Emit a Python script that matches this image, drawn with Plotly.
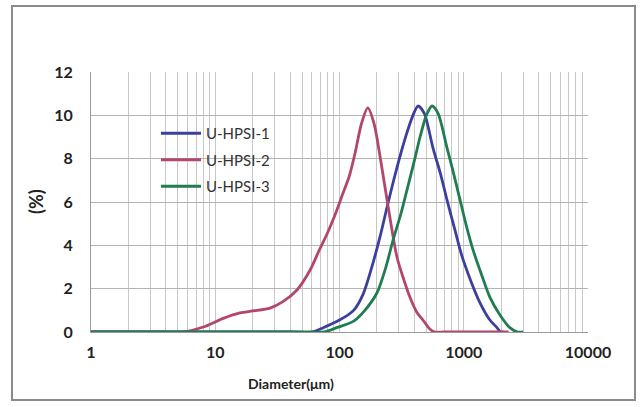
import plotly.graph_objects as go

# ---- data ----
d1 = [1, 40, 60, 74, 100, 130, 155, 180, 212, 240, 270, 310, 349, 390, 428, 480, 565, 650, 733, 850, 968, 1150, 1352, 1600, 1850, 1980, 2100]
v1 = [0, 0, 0, 0.2, 0.55, 1.0, 1.75, 2.9, 4.4, 5.7, 6.9, 8.2, 9.2, 10.0, 10.43, 10.1, 8.5, 7.3, 6.1, 4.7, 3.5, 2.3, 1.34, 0.6, 0.2, 0, 0]

d2 = [1, 4, 5.5, 8, 11.6, 15.8, 20, 27.6, 35, 45.5, 58, 69, 79, 92, 105, 120, 134, 150, 169, 190, 212, 246, 290, 330, 369, 420, 470, 530, 587, 700, 2300]
v2 = [0, 0, 0, 0.23, 0.63, 0.88, 0.97, 1.1, 1.4, 1.94, 2.86, 3.8, 4.5, 5.4, 6.3, 7.2, 8.3, 9.6, 10.34, 9.6, 8.1, 5.8, 3.46, 2.4, 1.6, 0.9, 0.55, 0.15, 0, 0, 0]

d3 = [1, 50, 75, 95, 130, 160, 200, 235, 270, 310, 349, 400, 445, 500, 555, 620, 733, 830, 933, 1050, 1186, 1400, 1625, 1950, 2350, 2700, 3000]
v3 = [0, 0, 0, 0.2, 0.5, 1.0, 1.8, 2.95, 4.25, 5.4, 6.55, 7.9, 9.0, 10.0, 10.43, 10.1, 8.5, 7.3, 6.1, 4.9, 3.8, 2.6, 1.6, 0.8, 0.2, 0, 0]

names = ["U-HPSI-1", "U-HPSI-2", "U-HPSI-3"]
colors = ["#3c3f9c", "#b3466f", "#1f7d4f"]

x_major = [1, 10, 100, 1000, 10000]
x_major_text = ["1", "10", "100", "1000", "10000"]
y_ticks = [0, 2, 4, 6, 8, 10, 12]

# grid positions: every 1..9 multiple of each decade
x_grid = []
x_grid_text = []
for dec in x_major[:-1]:
    for k in range(1, 10):
        x_grid.append(dec * k)
        x_grid_text.append(x_major_text[x_major.index(dec)] if k == 1 else "")
x_grid.append(x_major[-1])
x_grid_text.append(x_major_text[-1])

fig = go.Figure()
for i, (xs, ys) in enumerate([(d1, v1), (d2, v2), (d3, v3)]):
    fig.add_trace(go.Scatter(
        x=xs, y=ys, mode="lines", name=names[i],
        legendgroup=names[i],
        line=dict(color=colors[i], width=2.8, shape="spline", smoothing=0.8),
    ))

L, R, T, B = 91, 588, 72, 332
W, H = 641, 407

def px(xp):
    return (xp - L) / (R - L)

def py(yp):
    return (B - yp) / (B - T)

fig.update_layout(
    width=W, height=H,
    margin=dict(l=L, r=W - R, t=T, b=H - B),
    paper_bgcolor="white", plot_bgcolor="white",
    font=dict(family="Lato, 'Open Sans', sans-serif", color="#222"),
    showlegend=True,
    legend=dict(
        x=px(156), y=py(117), xanchor="left", yanchor="top",
        bgcolor="rgba(255,255,255,0)", borderwidth=0,
        font=dict(size=15, color="#333"),
        itemwidth=40, tracegroupgap=4,
    ),
    xaxis=dict(
        type="log", range=[0, 4],
        tickmode="array", tickvals=x_grid, ticktext=x_grid_text,
        showgrid=True, gridcolor="#c8c8c8", gridwidth=1,
        showline=True, linecolor="#9a9a9a", linewidth=1,
        ticks="", ticklabelstandoff=6,
        tickfont=dict(size=16, color="#222", weight="bold"),
        zeroline=False,
    ),
    yaxis=dict(
        range=[0, 12], tickmode="array", tickvals=y_ticks,
        showgrid=True, gridcolor="#b4b4b4", gridwidth=1,
        showline=True, linecolor="#9a9a9a", linewidth=1,
        ticks="", ticklabelstandoff=14,
        tickfont=dict(size=16, color="#222", weight="bold"),
        zeroline=False,
    ),
    annotations=[
        dict(text="Diameter(μm)", xref="paper", yref="paper",
             x=px(291), y=py(383), xanchor="center", yanchor="middle",
             showarrow=False, font=dict(size=14, color="#222", weight="bold")),
        dict(text="(%)", xref="paper", yref="paper",
             x=px(36), y=py(202), xanchor="center", yanchor="middle",
             textangle=-90, showarrow=False,
             font=dict(size=18, color="#222", weight="bold")),
    ],
    shapes=[
        dict(type="rect", xref="paper", yref="paper",
             x0=px(12), x1=px(635), y0=py(400), y1=py(6),
             line=dict(color="#8a8a8a", width=2), layer="below"),
    ],
)

fig.write_html("out.html", config={"displayModeBar": False},
               post_script="document.body.style.margin='0';")
